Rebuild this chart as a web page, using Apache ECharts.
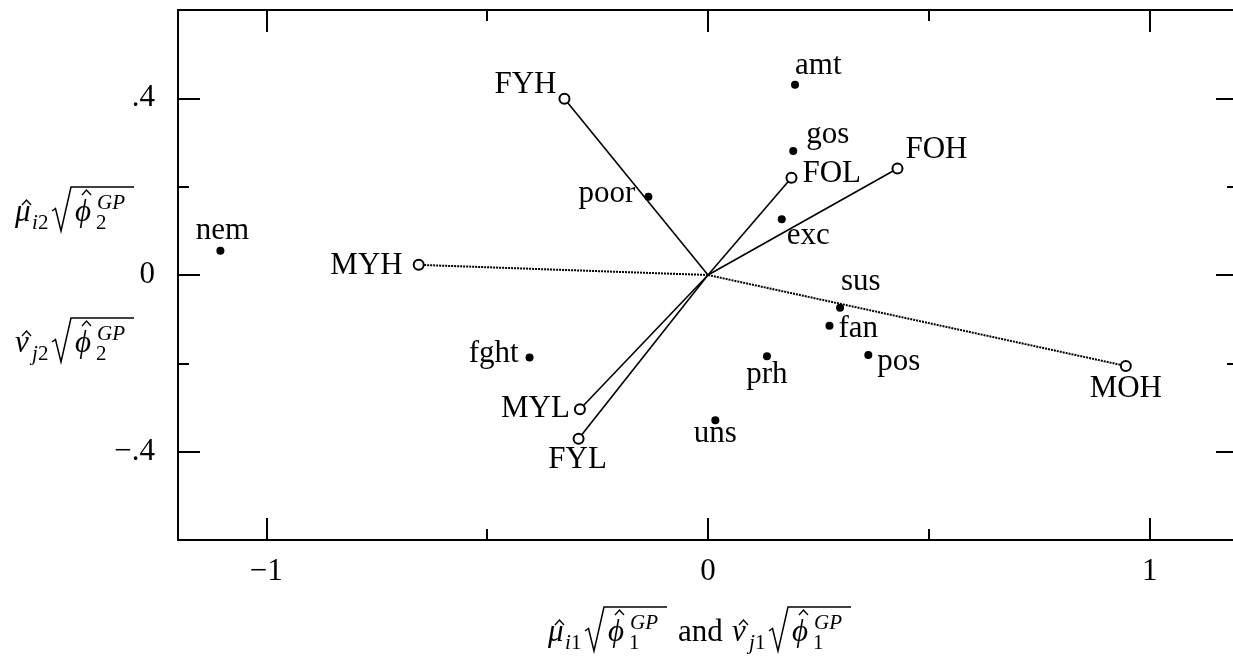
<!DOCTYPE html>
<html>
<head>
<meta charset="utf-8">
<script src="https://cdn.jsdelivr.net/npm/echarts@6/dist/echarts.min.js"></script>
<style>
  html, body { margin: 0; padding: 0; background: #fff; }
  #chart { width: 1233px; height: 656px; }
</style>
</head>
<body>
<div id="chart"></div>
<script>
// Column scores (open circles, joined to the origin)
const colNames = ['FYH', 'FOH', 'FOL', 'MYH', 'MOH', 'MYL', 'FYL'];
const colX = [-0.325, 0.429, 0.189, -0.655, 0.946, -0.290, -0.293];
const colY = [0.399, 0.241, 0.220, 0.023, -0.206, -0.304, -0.371];

// Row scores (filled dots)
const rowNames = ['amt', 'gos', 'poor', 'exc', 'nem', 'sus', 'fan', 'pos', 'prh', 'fght', 'uns'];
const rowX = [0.197, 0.193, -0.135, 0.167, -1.104, 0.299, 0.275, 0.363, 0.1335, -0.404, 0.0166];
const rowY = [0.431, 0.281, 0.177, 0.126, 0.055, -0.074, -0.115, -0.181, -0.184, -0.187, -0.329];

// Tick values and their printed labels
const xMajor = [-1, 0, 1];
const xMajorLabels = ['\u22121', '0', '1'];
const xMinor = [-0.5, 0.5];
const yMajor = [-0.4, 0, 0.4];
const yMajorLabels = ['\u2212.4', '0', '.4'];
const yMinor = [-0.2, 0.2];

// Columns drawn with a dotted vector
const dottedCols = ['MYH', 'MOH'];

// Label anchor placement per point: [align, dx, dy]
const labelPlace = {
  FYH: ['right', -8, -14], FOH: ['left', 8, -19], FOL: ['left', 11, -4],
  MYH: ['right', -16, 1], MOH: ['center', 0, 23], MYL: ['right', -10, 0],
  FYL: ['center', -1, 21],
  amt: ['left', 0, -19], gos: ['left', 13, -16], poor: ['right', -13, -3],
  exc: ['left', 5, 17], nem: ['center', 2, -20], sus: ['left', 1, -26],
  fan: ['left', 9, 3], pos: ['left', 9, 7], prh: ['center', 0, 19],
  fght: ['right', -11, -4], uns: ['center', 0, 14]
};

const SERIF = "'Liberation Serif', 'Times New Roman', serif";
const FS = 31;
const ITAL = 'italic ' + FS + 'px ' + SERIF;
const ROM = FS + 'px ' + SERIF;
const SITAL = 'italic 21px ' + SERIF;
const SROM = '21px ' + SERIF;

function pointLabel(name) {
  const p = labelPlace[name];
  return {
    show: true,
    formatter: name,
    position: 'inside',
    align: p[0],
    verticalAlign: 'middle',
    offset: [p[1], p[2]],
    fontFamily: SERIF,
    fontSize: FS,
    color: '#000',
    opacity: 1,
    textBorderWidth: 0,
    textBorderColor: 'transparent'
  };
}

const series = [];
colNames.forEach((name, i) => {
  const dotted = dottedCols.indexOf(name) >= 0;
  series.push({
    type: 'line',
    name: name,
    silent: true,
    z: 3,
    lineStyle: { color: '#000', width: dotted ? 2 : 1.6, type: dotted ? [2, 1] : 'solid' },
    itemStyle: { color: '#000', borderColor: '#000', borderWidth: 2, opacity: 1 },
    data: [
      { value: [0, 0], symbol: 'none' },
      { value: [colX[i], colY[i]], symbol: 'emptyCircle', symbolSize: 10, label: pointLabel(name) }
    ]
  });
});

series.push({
  type: 'scatter',
  name: 'rows',
  silent: true,
  z: 4,
  symbol: 'circle',
  symbolSize: 8,
  itemStyle: { color: '#000', opacity: 1 },
  data: rowNames.map((name, i) => ({ value: [rowX[i], rowY[i]], label: pointLabel(name) }))
});

// A score-axis expression such as  mu-hat_{i2} sqrt(phi-hat_2^{GP}),
// laid out from its left edge and text baseline.
function mathBlock(left, base, sym, subLetter, subDigit) {
  const kids = [];
  const txt = (t, x, y, font) => kids.push({
    type: 'text', silent: true,
    style: { text: t, x: x, y: y, font: font, fill: '#000', textAlign: 'left', textVerticalAlign: 'middle' }
  });
  const stroke = (pts, w) => kids.push({
    type: 'polyline', silent: true,
    shape: { points: pts }, style: { stroke: '#000', lineWidth: w, fill: null }
  });
  // greek symbol with hat
  txt(sym, 0, -10.5, ITAL);
  stroke([[7, -18], [11.5, -23], [16, -18]], 1.3);
  // subscript
  txt(subLetter, 17, 0, SITAL);
  txt(subDigit, 23, 0, SROM);
  // radical sign and vinculum
  stroke([[37, -12], [40.5, -14.5], [46, 8], [56, -36], [119, -36]], 1.5);
  // phi with hat, superscript GP, subscript digit
  txt('\u03d5', 60, -10.5, ITAL);
  stroke([[67, -28], [71.5, -33], [76, -28]], 1.3);
  txt('GP', 82, -20, SITAL);
  txt(subDigit, 81, 0, SROM);
  return { type: 'group', x: left, y: base, silent: true, children: kids };
}

const graphics = [
  mathBlock(15, 223, '\u03bc', 'i', '2'),
  mathBlock(15, 354, '\u03bd', 'j', '2'),
  mathBlock(548, 643, '\u03bc', 'i', '1'),
  {
    type: 'text', silent: true,
    style: { text: 'and', x: 678, y: 643 - 10.5, font: ROM, fill: '#000', textAlign: 'left', textVerticalAlign: 'middle' }
  },
  mathBlock(732, 643, '\u03bd', 'j', '1')
];

function xAxisDef(pos, vals, len, withLabels, withLine) {
  return {
    type: 'value', position: pos, min: -1.2, max: 1.2,
    axisLine: { show: withLine, onZero: false, lineStyle: { color: '#000', width: 2 } },
    axisTick: { show: true, inside: true, length: len, customValues: vals, lineStyle: { color: '#000', width: 2 } },
    axisLabel: withLabels ? {
      show: true, customValues: vals, margin: 16, fontFamily: SERIF, fontSize: FS, color: '#000',
      formatter: v => xMajorLabels[xMajor.findIndex(t => Math.abs(t - v) < 1e-9)]
    } : { show: false },
    splitLine: { show: false }, minorTick: { show: false }
  };
}

function yAxisDef(pos, vals, len, withLabels, withLine) {
  return {
    type: 'value', position: pos, min: -0.6, max: 0.6,
    axisLine: { show: withLine, onZero: false, lineStyle: { color: '#000', width: 2 } },
    axisTick: { show: true, inside: true, length: len, customValues: vals, lineStyle: { color: '#000', width: 2 } },
    axisLabel: withLabels ? {
      show: true, customValues: vals, margin: 23, fontFamily: SERIF, fontSize: FS, color: '#000',
      formatter: v => yMajorLabels[yMajor.findIndex(t => Math.abs(t - v) < 1e-9)]
    } : { show: false },
    splitLine: { show: false }, minorTick: { show: false }
  };
}

const chart = echarts.init(document.getElementById('chart'), null, { renderer: 'canvas' });
chart.setOption({
  animation: false,
  backgroundColor: '#fff',
  grid: { left: 178, top: 10, width: 1060, height: 530, containLabel: false, outerBoundsMode: 'none' },
  xAxis: [
    xAxisDef('bottom', xMajor, 22, true, true),
    xAxisDef('bottom', xMinor, 11, false, false),
    xAxisDef('top', xMajor, 22, false, true),
    xAxisDef('top', xMinor, 11, false, false)
  ],
  yAxis: [
    yAxisDef('left', yMajor, 22, true, true),
    yAxisDef('left', yMinor, 11, false, false),
    yAxisDef('right', yMajor, 22, false, true),
    yAxisDef('right', yMinor, 11, false, false)
  ],
  series: series,
  graphic: graphics
});
</script>
</body>
</html>
